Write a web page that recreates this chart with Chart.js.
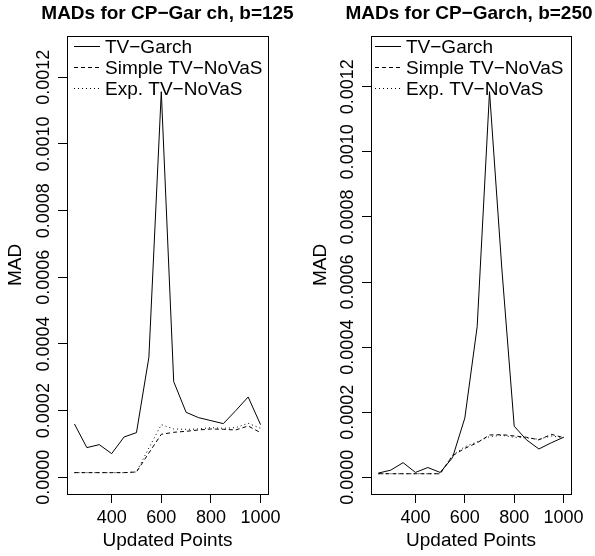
<!DOCTYPE html>
<html>
<head>
<meta charset="utf-8">
<script src="https://cdn.jsdelivr.net/npm/chart.js@4/dist/chart.umd.min.js"></script>
<style>
  html, body { margin: 0; padding: 0; background: #fff; overflow: hidden; width: 595px; height: 556px; }
  canvas { position: absolute; top: 0; }
  #c1 { left: 0px; }
  #c2 { left: 303px; }
</style>
</head>
<body>
<canvas id="c1" width="335" height="556"></canvas>
<canvas id="c2" width="332" height="556"></canvas>
<script>
// ---- data ----
const updatedPoints = [250, 300, 350, 400, 450, 500, 550, 600, 650, 700, 750, 800, 850, 900, 950, 1000];
const seriesNames = ['TV\u2212Garch', 'Simple TV\u2212NoVaS', 'Exp. TV\u2212NoVaS'];

const garch125  = [0.000160, 0.000089, 0.000098, 0.000071, 0.000121, 0.000134, 0.000360, 0.001157, 0.000287, 0.000195, 0.000179, 0.000170, 0.000161, 0.000200, 0.000241, 0.000158];
const simple125 = [0.000014, 0.000014, 0.000014, 0.000014, 0.000014, 0.000016, 0.000073, 0.000129, 0.000135, 0.000138, 0.000142, 0.000145, 0.000144, 0.000142, 0.000154, 0.000134];
const exp125    = [0.000014, 0.000014, 0.000014, 0.000014, 0.000014, 0.000016, 0.000088, 0.000158, 0.000145, 0.000144, 0.000145, 0.000149, 0.000147, 0.000149, 0.000162, 0.000147];

const garch250  = [0.000013, 0.000022, 0.000045, 0.000015, 0.000030, 0.000015, 0.000060, 0.000182, 0.000463, 0.001185, 0.000640, 0.000157, 0.000115, 0.000087, 0.000106, 0.000123];
const simple250 = [0.000011, 0.000011, 0.000011, 0.000011, 0.000011, 0.000011, 0.000066, 0.000089, 0.000106, 0.000130, 0.000131, 0.000127, 0.000123, 0.000115, 0.000132, 0.000122];
const exp250    = [0.000011, 0.000011, 0.000011, 0.000011, 0.000011, 0.000011, 0.000068, 0.000094, 0.000109, 0.000125, 0.000129, 0.000123, 0.000121, 0.000117, 0.000127, 0.000122];

const xTicks = [400, 600, 800, 1000];
const xTickLabels = ['400', '600', '800', '1000'];
const yTicks = [0, 0.0002, 0.0004, 0.0006, 0.0008, 0.0010, 0.0012];
const yTickLabels = ['0.0000', '0.0002', '0.0004', '0.0006', '0.0008', '0.0010', '0.0012'];

const titles = ['MADs for CP\u2212Gar ch, b=125', 'MADs for CP\u2212Garch, b=250'];
const xTitle = 'Updated Points';
const yTitle = 'MAD';

// ---- rendering ----
const FONT = '"Liberation Sans", Arial, Helvetica, sans-serif';
Chart.defaults.font.family = FONT;
Chart.defaults.color = '#000';

// plot frame (box) and an R-style legend inside the plot region, top-left
const framePlugin = {
  id: 'plotFrame',
  afterDraw(chart) {
    const a = chart.chartArea, ctx = chart.ctx;
    ctx.save();
    ctx.strokeStyle = '#000';
    ctx.lineWidth = 1;
    ctx.setLineDash([]);
    ctx.strokeRect(Math.round(a.left) + 0.5, Math.round(a.top) + 0.5,
                   Math.round(a.right - a.left), Math.round(a.bottom - a.top));
    const lg = chart.options.rLegend;
    ctx.font = '19px ' + FONT;
    ctx.fillStyle = '#000';
    ctx.textBaseline = 'alphabetic';
    ctx.textAlign = 'left';
    chart.data.datasets.forEach((ds, i) => {
      const base = a.top + 17.3 + i * 21;
      const ly = Math.round(base - 7.5) + 0.5;
      ctx.setLineDash(ds.borderDash || []);
      ctx.lineWidth = ds.borderWidth;
      ctx.strokeStyle = ds.borderColor;
      ctx.beginPath();
      ctx.moveTo(a.left + lg.lineStart, ly);
      ctx.lineTo(a.left + lg.lineEnd, ly);
      ctx.stroke();
      ctx.setLineDash([]);
      ctx.fillText(ds.label, a.left + lg.textStart, base);
    });
    ctx.restore();
  }
};

function pts(arr) { return updatedPoints.map((x, i) => ({ x: x, y: arr[i] })); }

function makeChart(id, cfg) {
  const dashes = [[], [4, 3], [1, 3]];
  const series = [cfg.garch, cfg.simple, cfg.exp];
  return new Chart(document.getElementById(id), {
    type: 'line',
    data: {
      datasets: series.map((s, i) => ({
        label: seriesNames[i],
        data: pts(s),
        borderColor: '#000',
        backgroundColor: '#000',
        borderWidth: 1,
        borderDash: dashes[i],
        pointRadius: 0,
        tension: 0,
        fill: false,
        yAxisID: 'y'
      }))
    },
    options: {
      responsive: false,
      animation: false,
      devicePixelRatio: 1,
      rLegend: cfg.legend,
      layout: { padding: 0 },
      plugins: {
        title: {
          display: true, text: cfg.title, color: '#000',
          font: { size: 19, weight: 'bold' },
          padding: { top: 2.6, bottom: 10.6 }
        },
        legend: { display: false },
        tooltip: { enabled: false }
      },
      scales: {
        x: {
          type: 'linear', min: 220, max: 1030,
          afterBuildTicks: (s) => { s.ticks = xTicks.map(v => ({ value: v })); },
          afterFit: (s) => { s.height = 62; },
          grid: { drawOnChartArea: false, tickLength: 9, color: '#000', lineWidth: 1 },
          border: { color: '#000', width: 1 },
          ticks: { autoSkip: false, maxRotation: 0, padding: 4, font: { size: 18 }, color: '#000',
                   callback: (v, i) => xTickLabels[i] },
          title: { display: true, text: xTitle, font: { size: 19 }, color: '#000', padding: { top: 0, bottom: 3.6 } }
        },
        y: {
          type: 'linear', position: 'left', min: cfg.ymin, max: cfg.ymax,
          afterBuildTicks: (s) => { s.ticks = yTicks.map(v => ({ value: v })); },
          afterFit: (s) => { s.width = cfg.yW; },
          grid: { drawOnChartArea: false, tickLength: 9, color: '#000', lineWidth: 1 },
          border: { color: '#000', width: 1 },
          ticks: { autoSkip: false, minRotation: 90, maxRotation: 90, crossAlign: 'center', padding: -13.5,
                   font: { size: 18 }, color: '#000', callback: (v, i) => yTickLabels[i] },
          title: { display: true, text: yTitle, font: { size: 19 }, color: '#000', padding: { top: cfg.yTitlePad, bottom: 0 } }
        },
        yRight: {
          type: 'linear', position: 'right', display: true,
          afterFit: (s) => { s.width = cfg.rightW; },
          grid: { display: false, drawTicks: false },
          border: { display: false },
          ticks: { display: false },
          title: { display: false }
        }
      }
    },
    plugins: [framePlugin]
  });
}

makeChart('c1', { garch: garch125, simple: simple125, exp: exp125, title: titles[0],
  yW: 67, rightW: 67, yTitlePad: 4.4, ymin: -0.0000501, ymax: 0.001324,
  legend: { lineStart: 7, lineEnd: 33, textStart: 38 } });
makeChart('c2', { garch: garch250, simple: simple250, exp: exp250, title: titles[1],
  yW: 68, rightW: 64, yTitlePad: 6.1, ymin: -0.0000513, ymax: 0.001356,
  legend: { lineStart: 4, lineEnd: 30, textStart: 35 } });
</script>
</body>
</html>
